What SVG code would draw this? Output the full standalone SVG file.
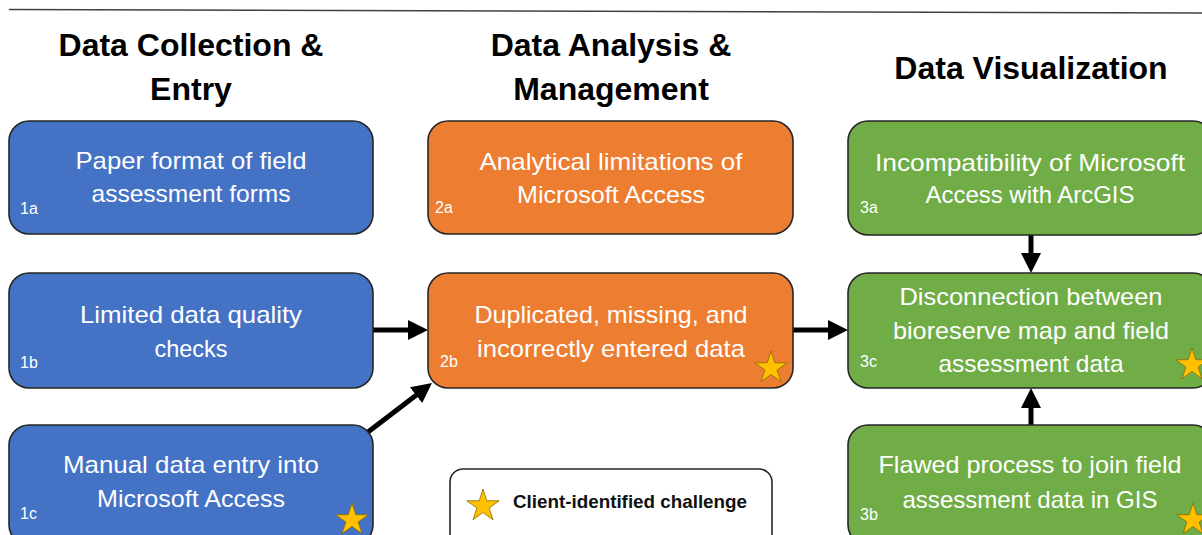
<svg xmlns="http://www.w3.org/2000/svg" width="1202" height="535" viewBox="0 0 1202 535">
<style>
.box{stroke:#262626;stroke-width:1.6}
.blue{fill:#4472C4}
.orange{fill:#ED7D31}
.green{fill:#70AD47}
.t{font-family:"Liberation Sans",Arial,sans-serif;font-size:24px;fill:#ffffff;text-anchor:middle}
.lbl{font-family:"Liberation Sans",Arial,sans-serif;font-size:16px;fill:#ffffff}
.hd{font-family:"Liberation Sans",Arial,sans-serif;font-size:32px;font-weight:bold;fill:#000000;text-anchor:middle}
.leg{font-family:"Liberation Sans",Arial,sans-serif;font-size:19px;font-weight:bold;fill:#111111}
.star{fill:#FFC000;stroke:#8a6a00;stroke-width:0.8}
.conn line{stroke:#000000;stroke-width:5;marker-end:url(#ah)}
</style>
<defs>
<marker id="ah" markerWidth="4" markerHeight="4" refX="2.4" refY="2" orient="auto" markerUnits="strokeWidth">
<path d="M0,0 L4,2 L0,4 Z" fill="#000000"/>
</marker>
<path id="star" d="M0,-17 L3.81,-5.25 L16.17,-5.25 L6.17,2.01 L9.99,13.75 L0,6.49 L-9.99,13.75 L-6.17,2.01 L-16.17,-5.25 L-3.81,-5.25 Z"/>
</defs>
<rect width="1202" height="535" fill="#ffffff"/>
<line x1="9" y1="9.5" x2="1202" y2="13" stroke="#404040" stroke-width="1.6"/>
<g id="headings">
<text class="hd" x="191" y="56">Data Collection &amp;</text>
<text class="hd" x="191" y="100">Entry</text>
<text class="hd" x="611" y="56">Data Analysis &amp;</text>
<text class="hd" x="611" y="100">Management</text>
<text class="hd" x="1031" y="79">Data Visualization</text>
</g>
<g class="conn" id="connectors">
<line x1="373" y1="330" x2="420" y2="330"/>
<line x1="368" y1="432" x2="425.6" y2="387.9"/>
<line x1="793" y1="330" x2="840" y2="330"/>
<line x1="1031" y1="235" x2="1031" y2="265"/>
<line x1="1031" y1="425" x2="1031" y2="396"/>
</g>
<g id="n1a">
<rect class="box blue" x="9" y="121" width="364" height="113" rx="20"/>
<text class="t" x="191" y="169" textLength="231" lengthAdjust="spacingAndGlyphs">Paper format of field</text>
<text class="t" x="191" y="202" textLength="199" lengthAdjust="spacingAndGlyphs">assessment forms</text>
<text class="lbl" x="20" y="214">1a</text>
</g>
<g id="n1b">
<rect class="box blue" x="9" y="273" width="364" height="115" rx="20"/>
<text class="t" x="191" y="323" textLength="222" lengthAdjust="spacingAndGlyphs">Limited data quality</text>
<text class="t" x="191" y="357" textLength="73" lengthAdjust="spacingAndGlyphs">checks</text>
<text class="lbl" x="20" y="368">1b</text>
</g>
<g id="n1c">
<rect class="box blue" x="9" y="425" width="364" height="120" rx="20"/>
<text class="t" x="191" y="473" textLength="256" lengthAdjust="spacingAndGlyphs">Manual data entry into</text>
<text class="t" x="191" y="507" textLength="188" lengthAdjust="spacingAndGlyphs">Microsoft Access</text>
<text class="lbl" x="20" y="519">1c</text>
<use href="#star" class="star" x="352" y="520"/>
</g>
<g id="n2a">
<rect class="box orange" x="428" y="121" width="365" height="113" rx="20"/>
<text class="t" x="611" y="170" textLength="263" lengthAdjust="spacingAndGlyphs">Analytical limitations of</text>
<text class="t" x="611" y="203" textLength="188" lengthAdjust="spacingAndGlyphs">Microsoft Access</text>
<text class="lbl" x="435" y="213">2a</text>
</g>
<g id="n2b">
<rect class="box orange" x="428" y="273" width="365" height="115" rx="20"/>
<text class="t" x="611" y="323" textLength="273" lengthAdjust="spacingAndGlyphs">Duplicated, missing, and</text>
<text class="t" x="611" y="357" textLength="268" lengthAdjust="spacingAndGlyphs">incorrectly entered data</text>
<text class="lbl" x="440" y="367">2b</text>
<use href="#star" class="star" x="771" y="368"/>
</g>
<g id="n3a">
<rect class="box green" x="848" y="121" width="365" height="114" rx="20"/>
<text class="t" x="1030" y="171" textLength="310" lengthAdjust="spacingAndGlyphs">Incompatibility of Microsoft</text>
<text class="t" x="1030" y="203" textLength="209" lengthAdjust="spacingAndGlyphs">Access with ArcGIS</text>
<text class="lbl" x="860" y="213">3a</text>
</g>
<g id="n3c">
<rect class="box green" x="848" y="273" width="365" height="115" rx="20"/>
<text class="t" x="1031" y="305" textLength="263" lengthAdjust="spacingAndGlyphs">Disconnection between</text>
<text class="t" x="1031" y="339" textLength="276" lengthAdjust="spacingAndGlyphs">bioreserve map and field</text>
<text class="t" x="1031" y="372" textLength="185" lengthAdjust="spacingAndGlyphs">assessment data</text>
<text class="lbl" x="860" y="367">3c</text>
<use href="#star" class="star" x="1192" y="365"/>
</g>
<g id="n3b">
<rect class="box green" x="848" y="425" width="365" height="120" rx="20"/>
<text class="t" x="1030" y="473" textLength="303" lengthAdjust="spacingAndGlyphs">Flawed process to join field</text>
<text class="t" x="1030" y="508" textLength="255" lengthAdjust="spacingAndGlyphs">assessment data in GIS</text>
<text class="lbl" x="860" y="520">3b</text>
<use href="#star" class="star" x="1193" y="520"/>
</g>
<g id="legend">
<rect x="450" y="469" width="322" height="80" rx="13" fill="#ffffff" stroke="#262626" stroke-width="1.6"/>
<use href="#star" class="star" x="483" y="506"/>
<text class="leg" x="513" y="508" textLength="234" lengthAdjust="spacingAndGlyphs">Client-identified challenge</text>
</g>
</svg>
